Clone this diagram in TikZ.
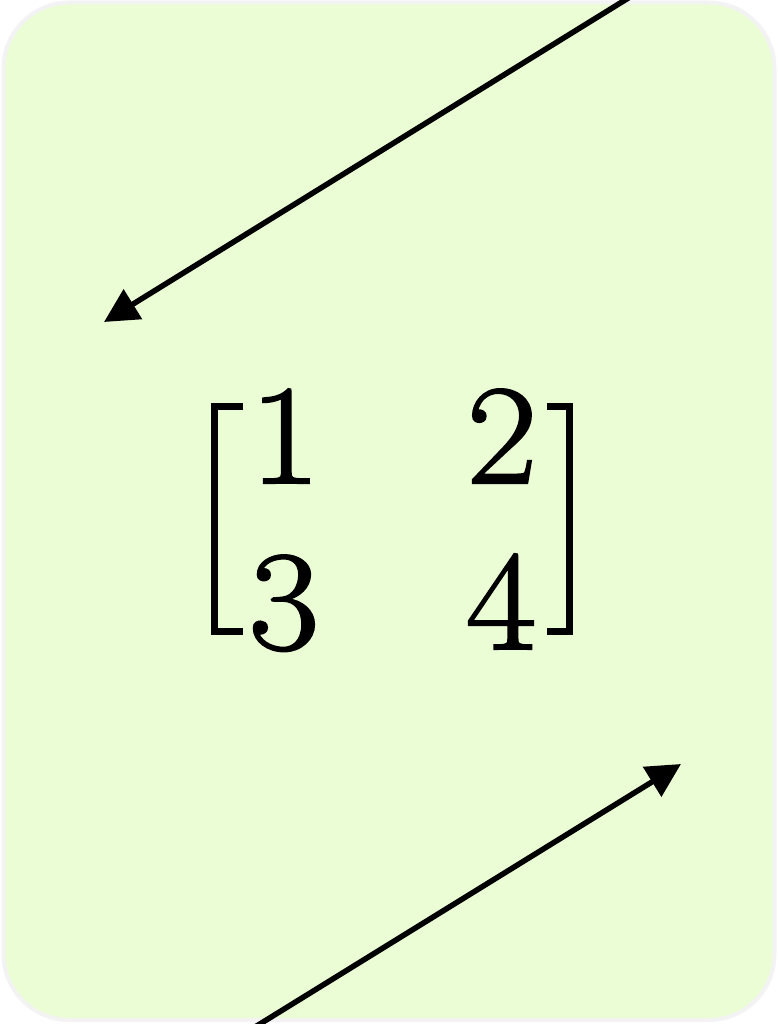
\documentclass[tikz,border=0pt]{standalone}
\usepackage{fontspec}
\usetikzlibrary{arrows.meta}
\newfontfamily\entryfont[FakeBold=1.6,FakeStretch=1.08]{Latin Modern Roman}
\definecolor{boxfill}{RGB}{235,253,213}
\definecolor{boxedge}{RGB}{243,243,243}
\tikzset{
  card/.style={draw=boxedge, fill=boxfill, line width=4pt, rounded corners=66pt},
  entry/.style={inner sep=0pt, anchor=base, font=\entryfont\fontsize{142}{150}\selectfont},
  bracket/.style={line width=7pt, line cap=butt, line join=miter},
  pointer/.style={line width=5.5pt, -{Triangle[length=34pt,width=34pt]}}
}
\begin{document}
\begin{tikzpicture}[x=1pt,y=-1pt]
\useasboundingbox (0,0) rectangle (778,1024);
\clip (0,0) rectangle (778,1024);
\draw[card] (3.5,2.5) rectangle (774.5,1020);
% matrix entries
\node[entry] (e11) at (285,483) {1};
\node[entry] (e12) at (502,483) {2};
\node[entry] (e21) at (284,649) {3};
\node[entry] (e22) at (501,649) {4};
% brackets
\draw[bracket] (243,406) -- (214.5,406) -- (214.5,631.5) -- (243,631.5);
\draw[bracket] (547,406) -- (569.5,406) -- (569.5,631.5) -- (547,631.5);
% arrows
\coordinate (s1) at (630,-3);
\coordinate (t1) at (104,322);
\coordinate (s2) at (255,1027);
\coordinate (t2) at (681,764);
\draw[pointer] (s1) -- (t1);
\draw[pointer] (s2) -- (t2);
\end{tikzpicture}
\end{document}
